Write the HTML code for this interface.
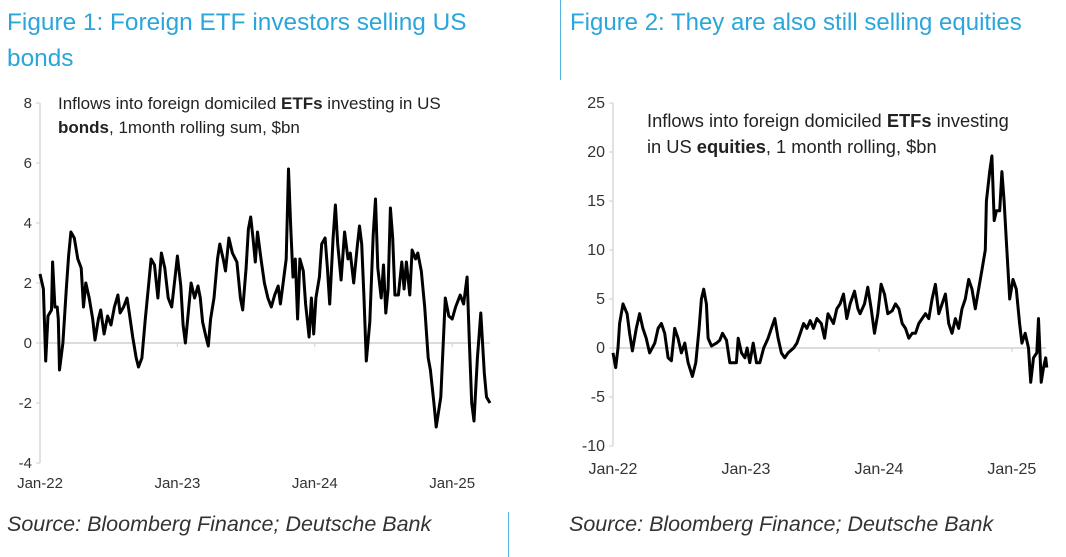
<!DOCTYPE html>
<html><head><meta charset="utf-8"><style>
body{margin:0;width:1066px;height:557px;background:#fff;overflow:hidden;position:relative;font-family:"Liberation Sans",sans-serif}
.t{position:absolute;color:#2aa6da;font-size:24.4px;line-height:36px;white-space:nowrap}
.src{position:absolute;top:512px;font-size:21.5px;font-style:italic;color:#333}
.vl{position:absolute;width:1px;background:#55b4de}
svg{position:absolute;left:0;top:0}
</style></head><body>
<div class="t" style="left:7px;top:5px">Figure 1: Foreign ETF investors selling US<br>bonds</div>
<div class="t" style="left:570px;top:5px;font-size:24px">Figure 2: They are also still selling equities</div>
<div class="vl" style="left:560px;top:0;height:80px"></div>
<div class="vl" style="left:508px;top:512px;height:45px"></div>
<div class="src" style="left:7px">Source: Bloomberg Finance; Deutsche Bank</div>
<div class="src" style="left:569px">Source: Bloomberg Finance; Deutsche Bank</div>
<svg width="1066" height="557" id="svg"></svg>
<script>
const xLabels=["Jan-22","Jan-23","Jan-24","Jan-25"];
const xLabelMonths=[0,12,24,36];
const bondTicks=[8,6,4,2,0,-2,-4];
const eqTicks=[25,20,15,10,5,0,-5,-10];
const bondMonths=[0,0.3,0.5,0.7,1.0,1.1,1.3,1.5,1.6,1.7,2.0,2.3,2.5,2.7,3.0,3.3,3.6,3.8,4.0,4.3,4.6,4.8,5.1,5.3,5.6,5.9,6.2,6.5,6.8,7.0,7.3,7.6,7.8,8.1,8.4,8.6,8.9,9.2,9.5,9.7,10.0,10.3,10.6,10.9,11.2,11.5,11.8,12.0,12.3,12.5,12.7,13.0,13.2,13.5,13.8,14.0,14.2,14.5,14.7,14.9,15.2,15.5,15.7,16.0,16.2,16.5,16.8,17.2,17.5,17.7,18.0,18.2,18.4,18.6,18.8,19.0,19.3,19.6,19.9,20.2,20.5,20.8,21.0,21.3,21.5,21.7,21.9,22.1,22.3,22.5,22.7,23.0,23.2,23.5,23.7,23.9,24.1,24.4,24.6,24.9,25.1,25.3,25.6,25.8,26.0,26.3,26.6,26.9,27.1,27.4,27.7,27.9,28.1,28.3,28.5,28.8,29.1,29.3,29.5,29.8,30.0,30.2,30.4,30.6,30.8,31.0,31.3,31.6,31.8,32.0,32.3,32.5,32.8,33.0,33.3,33.6,33.9,34.1,34.4,34.6,35.0,35.4,35.7,36.0,36.3,36.7,37.0,37.3,37.5,37.7,37.9,38.2,38.5,38.8,39.0,39.3];
const bondValues=[2.3,1.8,-0.6,0.9,1.1,2.7,1.2,1.2,0.8,-0.9,0.0,1.8,2.9,3.7,3.5,2.8,2.5,1.2,2.0,1.5,0.8,0.1,0.8,1.1,0.3,0.9,0.6,1.2,1.6,1.0,1.2,1.5,1.0,0.2,-0.5,-0.8,-0.5,0.8,2.0,2.8,2.6,1.5,3.0,2.5,1.5,1.2,2.2,2.9,1.9,0.6,0.0,1.2,2.0,1.5,1.9,1.5,0.7,0.2,-0.1,0.8,1.5,2.8,3.3,2.8,2.4,3.5,3.0,2.7,1.5,1.1,2.5,3.8,4.2,3.5,2.7,3.7,2.8,2.0,1.5,1.2,1.6,1.9,1.3,2.2,2.8,5.8,3.8,2.2,2.8,0.8,2.8,2.4,1.3,0.2,1.5,0.3,1.5,2.2,3.3,3.5,2.5,1.3,3.5,4.6,3.3,2.1,3.7,2.8,3.0,2.0,3.2,3.9,3.3,1.5,-0.6,0.7,3.6,4.8,2.5,1.5,2.6,1.0,1.8,4.5,3.5,1.6,1.6,2.7,1.8,2.7,1.6,3.1,2.8,3.0,2.4,1.2,-0.5,-0.9,-2.0,-2.8,-1.8,1.5,0.9,0.8,1.2,1.6,1.3,2.2,0.0,-2.0,-2.6,-0.5,1.0,-1.0,-1.8,-2.0];
const eqMonths=[0,0.24,0.45,0.6,0.9,1.27,1.5,1.75,2.1,2.4,2.7,3.0,3.3,3.77,4.07,4.37,4.67,4.97,5.27,5.57,5.87,6.17,6.48,6.78,7.17,7.47,7.77,7.98,8.19,8.43,8.58,8.89,9.34,9.64,9.88,10.24,10.54,10.84,11.14,11.3,11.6,11.9,12.1,12.35,12.65,12.95,13.25,13.6,14.0,14.3,14.6,14.9,15.2,15.5,15.8,16.3,16.6,16.9,17.2,17.5,17.8,18.1,18.4,18.8,19.1,19.4,19.9,20.2,20.5,20.8,21.1,21.4,21.8,22.1,22.3,22.7,23.0,23.3,23.6,23.9,24.2,24.5,24.8,25.2,25.5,25.8,26.1,26.4,26.7,27.0,27.3,27.6,27.9,28.2,28.5,28.8,29.1,29.4,29.7,30.0,30.3,30.6,30.9,31.2,31.5,31.8,32.1,32.4,32.7,33.0,33.3,33.6,33.7,34.0,34.2,34.4,34.6,34.9,35.1,35.3,35.5,35.8,36.1,36.4,36.7,36.9,37.2,37.5,37.7,37.95,38.25,38.4,38.65,38.85,39.05,39.15];
const eqValues=[-0.5,-2,0,2.5,4.5,3.5,1.5,-0.3,2,3.5,2,1,-0.5,0.5,2,2.5,1.5,-1,-1.3,2,1,-0.5,0.5,-1.5,-2.9,-1.5,2,5,6,4.5,1,0.2,0.5,0.8,1.5,0.8,-1.5,-1.5,-1.5,1,-0.5,-1,0,-1.5,0.5,-1.5,-1.5,0,1,2,3,1,-0.5,-1,-0.5,0,0.5,1.5,2.5,2,2.8,2,3,2.5,1,3.5,2.5,4,4.5,5.5,3,4.5,5.8,4,3.5,4.5,6.2,4,1.5,3.5,6.5,5.5,3.5,3.8,4.5,4,2.5,2,1,1.5,1.5,2.5,3,3.5,3,5,6.5,3.5,4.5,5.5,2.5,1.5,3,2,4,5,7,6,4,6,8,10,15,18,19.6,13,14,14,18,15,11,5,7,6,2.5,0.5,1.5,0,-3.5,-1,-0.5,3,-3.5,-2,-1,-2];

const svg=document.getElementById('svg');const NS='http://www.w3.org/2000/svg';
function el(tag,attrs,parent){const e=document.createElementNS(NS,tag);for(const k in attrs)e.setAttribute(k,attrs[k]);(parent||svg).appendChild(e);return e;}
function chart(cfg){
  const g=el('g',{});
  
  
  const X=m=>cfg.x0+m*cfg.pxPerMonth;
  const Y=v=>cfg.y0-v*cfg.pxPerUnit;
  const yMin=Math.min(...cfg.ticks),yMax=Math.max(...cfg.ticks);
  const ax=el('line',{x1:cfg.x0,x2:cfg.x0,y1:Y(yMax),y2:Y(yMin),stroke:'#cfcfcf','stroke-width':1.2},g);
  
  
  cfg.ticks.forEach(t=>{
    el('line',{x1:cfg.x0-4,x2:cfg.x0,y1:Y(t),y2:Y(t),stroke:'#cfcfcf'},g);
    const tx=el('text',{x:cfg.x0-8,y:Y(t)+5,'text-anchor':'end','font-size':cfg.fs,fill:'#333'},g);
    tx.textContent=t;
    
    
  });
  const zl=el('line',{x1:cfg.x0,x2:cfg.xEnd,y1:Y(0),y2:Y(0),stroke:'#c8c8c8','stroke-width':1.2},g);
  
  
  xLabels.forEach((l,i)=>{
    el('line',{x1:X(xLabelMonths[i]),x2:X(xLabelMonths[i]),y1:Y(0),y2:Y(0)+4,stroke:'#cfcfcf'},g);
    const tx=el('text',{x:X(xLabelMonths[i]),y:cfg.xLabelY,'text-anchor':'middle','font-size':cfg.fs,fill:'#333'},g);
    tx.textContent=l;
    
    
  });
  const d=cfg.months.map((m,i)=>(i?'L':'M')+X(m).toFixed(1)+','+Y(cfg.values[i]).toFixed(1)).join('');
  const p=el('path',{d:d,fill:'none',stroke:'#000','stroke-width':3,'stroke-linejoin':'round'},g);
  
  
  cfg.note.forEach((ln,i)=>{
    const tx=el('text',{x:cfg.noteX,y:cfg.noteY+i*cfg.noteGap,'font-size':cfg.noteFs,fill:'#222'},g);
    tx.innerHTML=ln;
    
    
  });
}
chart({name:'bond-flows-chart',x0:40,pxPerMonth:11.45,y0:343,pxPerUnit:30,ticks:bondTicks,xEnd:490,xLabelY:488,fs:15,months:bondMonths,values:bondValues,noteX:58,noteY:109,noteGap:24,noteFs:17,
  note:['Inflows into foreign domiciled <tspan font-weight="bold">ETFs</tspan> investing in US','<tspan font-weight="bold">bonds</tspan>, 1month rolling sum, $bn']});
chart({name:'equity-flows-chart',x0:613,pxPerMonth:11.08,y0:348,pxPerUnit:9.8,ticks:eqTicks,xEnd:1046,xLabelY:474,fs:16,months:eqMonths,values:eqValues,noteX:647,noteY:127,noteGap:26,noteFs:18.3,
  note:['Inflows into foreign domiciled <tspan font-weight="bold">ETFs</tspan> investing','in US <tspan font-weight="bold">equities</tspan>,  1 month rolling, $bn']});
</script>
</body></html>
